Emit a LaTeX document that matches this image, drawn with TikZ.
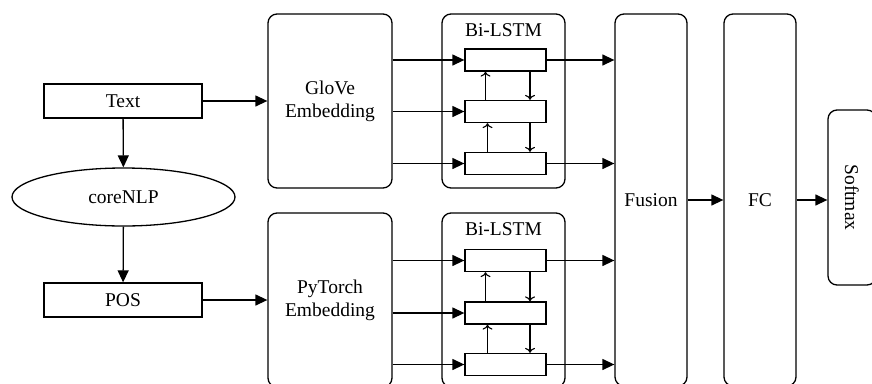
\documentclass[tikz,border=0pt]{standalone}
\usepackage{fontspec}
\setmainfont{Liberation Serif}
\usetikzlibrary{arrows.meta,positioning,shapes.geometric}

\begin{document}
\begin{tikzpicture}[x=1pt,y=-1pt,line width=1.3pt,font=\fontsize{19.5}{23}\selectfont,
  box/.style={draw,rectangle,minimum width=158pt,minimum height=34pt,inner sep=0pt},
  rbox/.style={draw,rectangle,rounded corners=9pt,minimum width=124pt,minimum height=174pt,align=center,inner sep=0pt},
  tall/.style={draw,rectangle,rounded corners=9pt,minimum width=72pt,minimum height=372pt,inner sep=0pt},
  cell/.style={draw,rectangle,minimum width=81pt,minimum height=22pt,inner sep=0pt},
  arr/.style={-{Triangle[length=12pt,width=11pt]}},
  sarr/.style={-{To[length=5pt,width=10pt]},line width=1.1pt}]
\useasboundingbox (0,0) rectangle (872,383);

% inputs
\node[box] (text) at (123,101) {Text};
\node[draw,ellipse,minimum width=223pt,minimum height=58pt,inner sep=0pt] (nlp) at (123.5,197) {coreNLP};
\node[box] (pos) at (123,300) {POS};

% embeddings
\node[rbox] (glove) at (330,101) {GloVe\\Embedding};
\node[rbox] (torch) at (330,300) {PyTorch\\Embedding};

% Bi-LSTM blocks
\node[rbox,minimum width=123pt] (lstmA) at (503.5,101) {};
\node[rbox,minimum width=123pt] (lstmB) at (503.5,300) {};
\node at ([yshift=-17]lstmA.north) {Bi-LSTM};
\node at ([yshift=-17]lstmB.north) {Bi-LSTM};
\foreach \n/\y in {a1/60,a2/111.5,a3/163.5,b1/260.5,b2/313,b3/364.5}
  \node[cell] (\n) at (505.5,\y) {};

% fusion, FC, softmax
\node[tall] (fusion) at (651,200) {Fusion};
\node[tall] (fc) at (760,200) {FC};
\node[draw,rectangle,rounded corners=9pt,minimum width=48pt,minimum height=175pt,inner sep=0pt] (soft) at (852,197.5) {};
\node[rotate=-90] at (soft) {Softmax};

% connectors
\draw[arr] (text) -- (nlp);
\draw[arr] (nlp) -- (pos);
\draw[arr] (text) -- (glove);
\draw[arr] (pos) -- (torch);
\foreach \n in {a1,a2,a3}
  \draw[arr] (glove.east |- \n) -- (\n);
\foreach \n in {b1,b2,b3}
  \draw[arr] (torch.east |- \n) -- (\n);
\foreach \n in {a1,a3,b1,b3}
  \draw[arr] (\n) -- (\n -| fusion.west);
\draw[sarr] ([xshift=-20]a2.north) -- ([xshift=-20]a1.south);
\draw[sarr] ([xshift=-18]a3.north) -- ([xshift=-18]a2.south);
\draw[sarr] ([xshift=24.5]a1.south) -- ([xshift=24.5]a2.north);
\draw[sarr] ([xshift=24.5]a2.south) -- ([xshift=24.5]a3.north);
\draw[sarr] ([xshift=-20]b2.north) -- ([xshift=-20]b1.south);
\draw[sarr] ([xshift=-18]b3.north) -- ([xshift=-18]b2.south);
\draw[sarr] ([xshift=24.5]b1.south) -- ([xshift=24.5]b2.north);
\draw[sarr] ([xshift=24.5]b2.south) -- ([xshift=24.5]b3.north);
\draw[arr] (fusion) -- (fc);
\draw[arr] (fc.east) -- (fc.east -| soft.west);

\end{tikzpicture}
\end{document}
